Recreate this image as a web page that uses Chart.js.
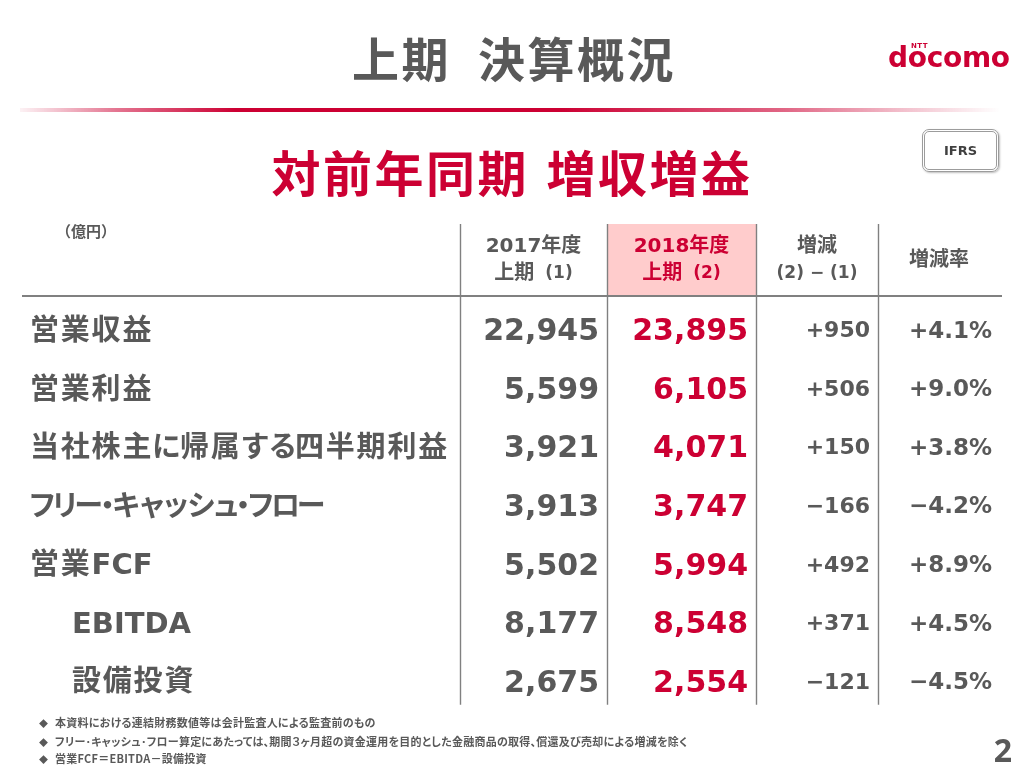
<!DOCTYPE html>
<html lang="ja"><head><meta charset="utf-8">
<script src="https://cdn.jsdelivr.net/npm/chart.js@4.4.1/dist/chart.umd.min.js"></script>
<style>
html,body{margin:0;padding:0;background:#fff;}
body{width:1024px;height:768px;position:relative;overflow:hidden;font-family:'Noto Sans CJK JP',sans-serif;}
#wrap{position:absolute;left:0;top:0;width:1024px;height:768px;}
.abs{position:absolute;white-space:nowrap;}
#title{left:2px;width:1024px;top:32px;text-align:center;font-size:47px;line-height:50px;font-weight:700;color:#595959;letter-spacing:2.5px;word-spacing:14px;}
#subtitle{left:0;width:1024px;top:145px;text-align:center;font-size:49px;line-height:51px;font-weight:700;color:#cc0033;letter-spacing:2.5px;word-spacing:4px;}
#rule{left:20px;top:108px;width:980px;height:4px;background:linear-gradient(to right,rgba(204,0,51,0.05) 0%,rgba(204,0,51,0.55) 10%,#cc0033 22%,#cc0033 55%,rgba(204,0,51,0.6) 78%,rgba(204,0,51,0.25) 90%,rgba(204,0,51,0) 100%);}
#logo{left:888px;top:44px;font-family:'DejaVu Sans',sans-serif;font-weight:700;font-size:28px;line-height:28px;color:#cc0033;letter-spacing:-0.3px;}
#ntt{left:911px;top:42px;font-family:'DejaVu Sans',sans-serif;font-weight:700;font-size:7px;line-height:8px;color:#cc0033;letter-spacing:0.5px;}
#ifrs{left:922px;top:129px;width:71px;height:37px;border:3px double #9c9c9c;border-radius:7px;box-shadow:1px 1px 2px rgba(0,0,0,0.25);font-family:'DejaVu Sans',sans-serif;font-weight:700;font-size:13px;line-height:37px;text-align:center;color:#404040;}
#unit{left:56px;top:222px;font-size:15px;line-height:18px;font-weight:700;color:#595959;}
.note{left:39px;font-size:11px;line-height:14px;font-weight:700;color:#595959;font-feature-settings:"palt";letter-spacing:0.25px;}
.note .dia{font-size:9px;display:inline-block;width:16px;}
#page{right:12px;top:734px;font-family:'Noto Sans',sans-serif;font-weight:700;font-size:32px;line-height:32px;color:#595959;}
</style></head>
<body>
<div id="wrap"><canvas id="c"></canvas></div>
<div id="title" class="abs">上期 決算概況</div>
<div id="rule" class="abs"></div>
<div id="ntt" class="abs">NTT</div>
<div id="logo" class="abs">docomo</div>
<div id="subtitle" class="abs">対前年同期 増収増益</div>
<div id="ifrs" class="abs">IFRS</div>
<div id="unit" class="abs">（億円）</div>
<div class="abs note" style="top:715px"><span class="dia">◆</span>本資料における連結財務数値等は会計監査人による監査前のもの</div>
<div class="abs note" style="top:734px"><span class="dia">◆</span>フリー･キャッシュ･フロー算定にあたっては、期間３ヶ月超の資金運用を目的とした金融商品の取得、償還及び売却による増減を除く</div>
<div class="abs note" style="top:751px"><span class="dia">◆</span>営業FCF＝EBITDA－設備投資</div>
<div id="page" class="abs">2</div>
<script>
// ---- data ----
const rowLabels = ['営業収益', '営業利益', '当社株主に帰属する四半期利益', 'フリー・キャッシュ・フロー', '営業FCF', 'EBITDA', '設備投資'];
const subRows = ['EBITDA', '設備投資'];
const fy2017H1 = [22945, 5599, 3921, 3913, 5502, 8177, 2675];
const fy2018H1 = [23895, 6105, 4071, 3747, 5994, 8548, 2554];
const changeAmount = [950, 506, 150, -166, 492, 371, -121];
const changeRate = [4.1, 9.0, 3.8, -4.2, 8.9, 4.5, -4.5];
const headerLine1 = ['2017年度', '2018年度', '増減', '増減率'];
const headerLine2 = [['上期', '(1)'], ['上期', '(2)'], [null, '(2) − (1)'], null];

// ---- layout / style ----
const GRAY = '#595959', RED = '#cc0033', LINE = '#808080';
const colWidths = [147, 149, 122, 122];
const colEdges = colWidths.reduce((a, w) => { a.push(a[a.length - 1] + w); return a; }, [0]);
const highlightCol = 1;
const FONT = '"DejaVu Sans", "Noto Sans CJK JP", sans-serif';

const fmtInt = v => v.toLocaleString('en-US');
const fmtSigned = v => (v < 0 ? '−' : '+') + Math.abs(v).toLocaleString('en-US');
const fmtRate = v => (v < 0 ? '−' : '+') + Math.abs(v).toFixed(1) + '%';

const valueColumns = [
  { label: '2017年度上期', values: fy2017H1, fmt: fmtInt, color: GRAY, size: 30 },
  { label: '2018年度上期', values: fy2018H1, fmt: fmtInt, color: RED, size: 30 },
  { label: '増減', values: changeAmount, fmt: fmtSigned, color: GRAY, size: 22 },
  { label: '増減率', values: changeRate, fmt: fmtRate, color: GRAY, size: 23 }
];

function isNarrowKana(ch) {
  const c = ch.charCodeAt(0);
  return (c >= 0x3000 && c <= 0x30ff) || (c >= 0xff60 && c <= 0xff9f);
}
// draws a label with proportional kana (like "palt"); y = visual centre
function drawLabel(ctx, text, x, y, size, color) {
  ctx.save();
  ctx.fillStyle = color;
  ctx.textAlign = 'left';
  ctx.textBaseline = 'alphabetic';
  ctx.font = 'bold ' + size + 'px ' + FONT;
  const base = y + size * 0.37;
  let pen = x;
  for (const ch of text) {
    const m = ctx.measureText(ch);
    if (isNarrowKana(ch)) {
      const ink = m.actualBoundingBoxLeft + m.actualBoundingBoxRight;
      const gap = size * 0.03;
      ctx.fillText(ch, pen + gap + m.actualBoundingBoxLeft, base);
      pen += ink + gap * 2;
    } else if (ch.charCodeAt(0) > 0x2e80) {
      ctx.fillText(ch, pen, base);
      pen += m.width + 1.8;
    } else {
      ctx.fillText(ch, pen, base);
      pen += m.width;
    }
  }
  ctx.restore();
}
function drawText(ctx, text, x, y, size, color, align) {
  ctx.save();
  ctx.font = 'bold ' + size + 'px ' + FONT;
  ctx.fillStyle = color;
  ctx.textAlign = align;
  ctx.textBaseline = 'alphabetic';
  ctx.fillText(text, x, y + size * 0.365);
  ctx.restore();
}

const tablePlugin = {
  id: 'tablePlugin',
  beforeDatasetsDraw(chart) {
    const { ctx, chartArea: ca, scales: { x, y } } = chart;
    const ruleY = ca.top - 4;
    const headerTop = ruleY - 72;
    const lineBottom = y.getPixelForValue(rowLabels.length - 1) + 24;
    ctx.save();
    const hx0 = x.getPixelForValue(colEdges[highlightCol]);
    const hx1 = x.getPixelForValue(colEdges[highlightCol + 1]);
    ctx.fillStyle = '#ffcccc';
    ctx.fillRect(hx0, headerTop, hx1 - hx0, ruleY - headerTop);
    ctx.strokeStyle = LINE;
    ctx.lineWidth = 1.4;
    colEdges.slice(0, -1).forEach(e => {
      const px = Math.round(x.getPixelForValue(e)) + 0.5;
      ctx.beginPath(); ctx.moveTo(px, headerTop); ctx.lineTo(px, lineBottom); ctx.stroke();
    });
    ctx.lineWidth = 2;
    ctx.beginPath(); ctx.moveTo(22, ruleY); ctx.lineTo(x.right + 2, ruleY); ctx.stroke();
    ctx.restore();
  },
  afterDatasetsDraw(chart) {
    const { ctx, chartArea: ca, scales: { x, y } } = chart;
    const ruleY = ca.top - 4;
    // headers
    headerLine1.forEach((t, k) => {
      const cx = x.getPixelForValue((colEdges[k] + colEdges[k + 1]) / 2);
      const color = k === highlightCol ? RED : GRAY;
      const l2 = headerLine2[k];
      if (!l2) { drawText(ctx, t, cx, ruleY - 37, 20, color, 'center'); return; }
      drawText(ctx, t, cx, ruleY - 51, 20, color, 'center');
      ctx.save();
      ctx.font = 'bold 20px ' + FONT; const w1 = l2[0] ? ctx.measureText(l2[0]).width : 0;
      ctx.font = 'bold 17px ' + FONT; const w2 = ctx.measureText(l2[1]).width;
      ctx.restore();
      const gap = l2[0] ? 11 : 0;
      const start = cx - (w1 + gap + w2) / 2;
      if (l2[0]) drawText(ctx, l2[0], start, ruleY - 24, 20, color, 'left');
      drawText(ctx, l2[1], start + w1 + gap, ruleY - 24, 17, color, 'left');
    });
    // row labels
    rowLabels.forEach((r, i) => {
      const py = y.getPixelForValue(i);
      drawLabel(ctx, r, subRows.includes(r) ? 72 : 30, py, 29, GRAY);
    });
    // values
    valueColumns.forEach((col, k) => {
      const meta = chart.getDatasetMeta(k);
      meta.data.forEach((pt, i) => {
        drawText(ctx, col.fmt(col.values[i]), pt.x - 8, pt.y, col.size, col.color, 'right');
      });
    });
  }
};

new Chart(document.getElementById('c'), {
  type: 'scatter',
  data: {
    datasets: valueColumns.map((col, k) => ({
      label: col.label,
      data: col.values.map((v, i) => ({ x: colEdges[k + 1], y: rowLabels[i] })),
      pointRadius: 0,
      pointHoverRadius: 0
    }))
  },
  options: {
    responsive: true,
    maintainAspectRatio: false,
    animation: false,
    events: [],
    layout: { padding: { left: 460, right: 24, top: 300, bottom: 58 } },
    scales: {
      x: { type: 'linear', min: 0, max: colEdges[colEdges.length - 1], display: false },
      y: { type: 'category', labels: rowLabels, offset: true, display: false }
    },
    plugins: { legend: { display: false }, tooltip: { enabled: false } }
  },
  plugins: [tablePlugin]
});
</script>
</body></html>
